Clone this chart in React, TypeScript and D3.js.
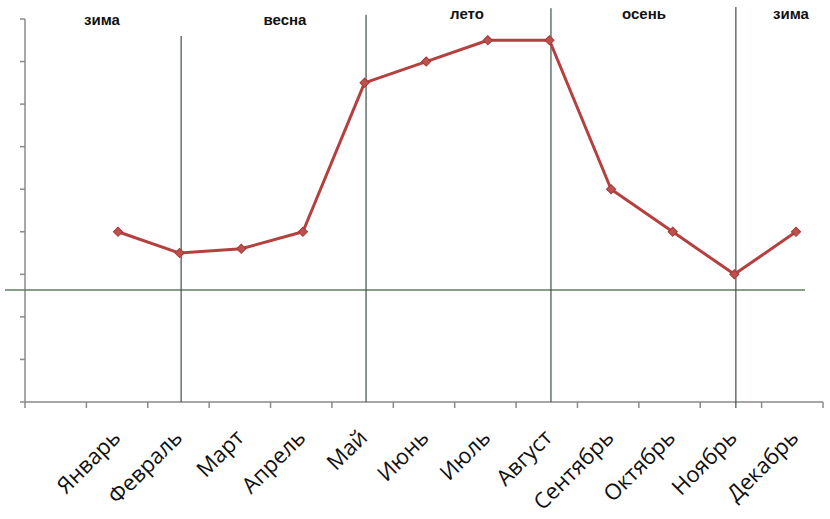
import React from "react";
import * as d3 from "d3";

const categories = ["", "Январь", "Февраль", "Март", "Апрель", "Май", "Июнь", "Июль", "Август", "Сентябрь", "Октябрь", "Ноябрь", "Декабрь"];
const months = categories.slice(1);
const values = [4, 3.5, 3.6, 4, 7.5, 8, 8.5, 8.5, 5, 4, 3, 4];
const yTicks = [0, 1, 2, 3, 4, 5, 6, 7, 8, 9];
const zeroLine = 2.63;
const dividers = [
  { month: "Февраль", top: 8.6 },
  { month: "Май", top: 9.1 },
  { month: "Август", top: 9.25 },
  { month: "Ноябрь", top: 9.28 },
];
const seasons = [
  { name: "зима", x: 102, level: 8.85 },
  { name: "весна", x: 285, level: 8.85 },
  { name: "лето", x: 467, level: 8.99 },
  { name: "осень", x: 644, level: 8.99 },
  { name: "зима", x: 791, level: 8.99 },
];

export default function App() {
  const W = 830, H = 519;
  const left = 25, right = 823, top = 19, bottom = 402;
  const x = d3.scaleBand<string>().domain(categories).range([left, right]).paddingInner(0).paddingOuter(0);
  const px = d3.scalePoint<string>().domain(months).range([118, 796]);
  const y = d3.scaleLinear().domain([0, 9]).range([bottom, top]);
  const cx = (m: string) => px(m) as number;
  const line = d3.line<number>().x((_, i) => cx(months[i])).y((v) => y(v));
  const tickXs = categories.map((c) => x(c) as number).concat([right]);
  const marker = d3.symbol().type(d3.symbolSquare).size(42)();

  return (
    <svg width={W} height={H} style={{ position: "absolute", left: 0, top: 0, background: "#fff" }}>
      {/* y axis */}
      <line x1={left} x2={left} y1={top} y2={bottom} stroke="#8a8a8a" strokeWidth={1.5} />
      {yTicks.map((t) => (
        <line key={t} x1={left - 5} x2={left} y1={y(t)} y2={y(t)} stroke="#8a8a8a" strokeWidth={1.5} />
      ))}
      {/* x axis */}
      <line x1={left} x2={right} y1={bottom} y2={bottom} stroke="#8a8a8a" strokeWidth={1.5} />
      {tickXs.map((tx, i) => (
        <line key={i} x1={tx} x2={tx} y1={bottom} y2={bottom + 6} stroke="#8a8a8a" strokeWidth={1.5} />
      ))}
      {/* zero line */}
      <line x1={5} x2={805} y1={y(zeroLine)} y2={y(zeroLine)} stroke="#5f7f62" strokeWidth={1.5} />
      {/* dividers */}
      {dividers.map((d) => (
        <line key={d.month} x1={cx(d.month) + 1.5} x2={cx(d.month) + 1.5} y1={y(d.top)} y2={d.month === "Ноябрь" ? bottom + 6 : bottom} stroke="#3f4f46" strokeWidth={1.2} />
      ))}
      {/* seasons */}
      {seasons.map((s, i) => (
        <text key={i} x={s.x} y={y(s.level)} textAnchor="middle" fontFamily="Liberation Sans, Arial, sans-serif" fontWeight="bold" fontSize={15} fill="#111">
          {s.name}
        </text>
      ))}
      {/* series */}
      <path d={line(values) || ""} fill="none" stroke="#b4403f" strokeWidth={3} strokeLinejoin="round" />
      {values.map((v, i) => (
        <path key={i} d={marker || ""} transform={`translate(${cx(months[i])},${y(v)}) rotate(45)`} fill="#c0504d" stroke="#a33a38" strokeWidth={1} />
      ))}
      {/* x labels */}
      {months.map((m) => (
        <text key={m} transform={`translate(${cx(m) + 4},${bottom + 37}) rotate(-45)`} textAnchor="end" fontFamily="Open Sans, sans-serif" fontSize={22} fill="#111">
          {m}
        </text>
      ))}
    </svg>
  );
}
